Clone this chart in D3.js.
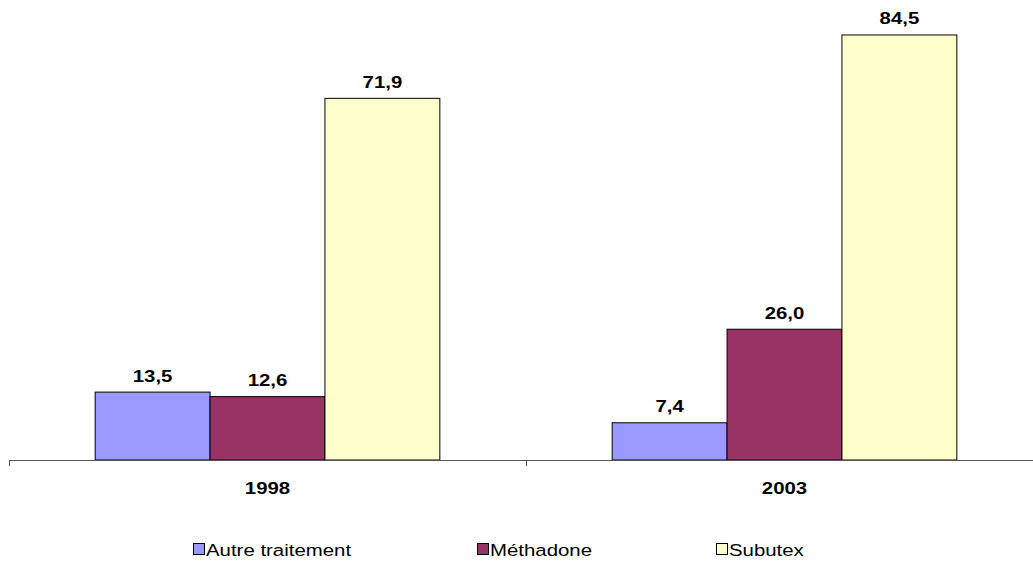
<!DOCTYPE html>
<html><head><meta charset="utf-8">
<script src="https://cdn.jsdelivr.net/npm/d3@7"></script>
<style>body{margin:0;background:#fff}svg{display:block;font-family:"Liberation Sans",Arial,sans-serif}</style>
</head><body><svg id="c" width="1033" height="561"></svg>
<script>
const categories = ["1998", "2003"];
const seriesNames = ["Autre traitement", "Méthadone", "Subutex"];
const autre = [13.5, 7.4];
const methadone = [12.6, 26.0];
const subutex = [71.9, 84.5];
const colors = ["#9999FF", "#993366", "#FFFFCC"];
const seriesValues = [autre, methadone, subutex];

const svg = d3.select("#c");
const left = 9, right = 1043, base = 460;
const x0 = d3.scaleBand().domain(categories).range([left, right]).paddingInner(0).paddingOuter(0);
const x1 = d3.scaleBand().domain(seriesNames).range([0, x0.bandwidth()]).paddingOuter(0.75).paddingInner(0);
const y = d3.scaleLinear().domain([0, 90]).range([base, base - 5.03 * 90]);
const SX = 1.2;

function label(sel, x, yy, txt, opts) {
  return sel.append("text").attr("transform", `translate(${x},${yy}) scale(${SX},1)`)
    .attr("text-anchor", opts.anchor || "middle").attr("font-weight", opts.bold ? "bold" : "normal")
    .attr("font-size", 17).attr("fill", "#000").text(txt);
}

const g = svg.append("g");
categories.forEach((c, ci) => {
  seriesNames.forEach((s, si) => {
    const v = seriesValues[si][ci];
    const xx = x0(c) + x1(s);
    g.append("rect").attr("x", xx).attr("y", y(v)).attr("width", x1.bandwidth()).attr("height", base - y(v))
      .attr("fill", colors[si]).attr("stroke", "#000").attr("stroke-width", 1);
    label(g, xx + x1.bandwidth() / 2, y(v) - 10.5, d3.format(".1f")(v).replace(".", ","), {bold: true});
  });
});

// axis
const ax = svg.append("g").attr("transform", `translate(0,${base})`);
ax.append("line").attr("x1", left).attr("x2", 1033).attr("y1", 0.5).attr("y2", 0.5).attr("stroke", "#555");
[left, x0("2003"), right].forEach(t => {
  ax.append("line").attr("x1", Math.round(t) + 0.5).attr("x2", Math.round(t) + 0.5).attr("y1", 0).attr("y2", 6).attr("stroke", "#555");
});
categories.forEach(c => {
  label(ax, x0(c) + x0.bandwidth() / 2, 33.5, c, {bold: true});
});

// legend
const legX = [193, 477, 716];
const lg = svg.append("g");
seriesNames.forEach((s, i) => {
  lg.append("rect").attr("x", legX[i] + 0.5).attr("y", 543.5).attr("width", 11).attr("height", 11)
    .attr("fill", colors[i]).attr("stroke", "#000");
  label(lg, legX[i] + 13, 555.5, s, {anchor: "start"});
});
</script></body></html>
